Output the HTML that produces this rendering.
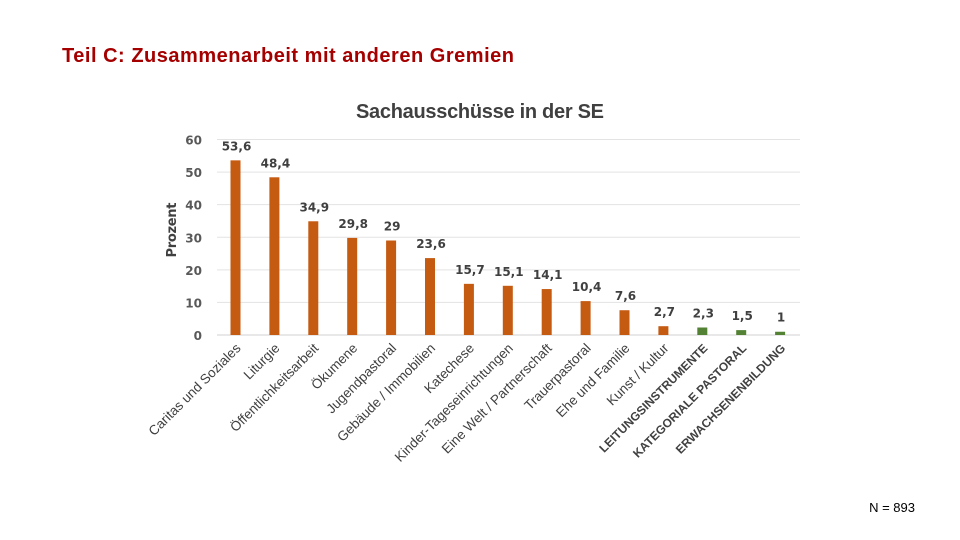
<!DOCTYPE html>
<html><head><meta charset="utf-8"><style>
html,body{margin:0;padding:0;background:#fff;width:960px;height:540px;overflow:hidden}
svg{display:block;font-family:"Liberation Sans",sans-serif}
</style></head><body>
<svg id="chart" width="960" height="540">
<text x="62" y="62" font-size="20" font-weight="bold" fill="#a50000" textLength="452">Teil C: Zusammenarbeit mit anderen Gremien</text>
<text x="480" y="118" text-anchor="middle" font-size="20" font-weight="bold" fill="#404040" textLength="248">Sachausschüsse in der SE</text>
<text transform="translate(176,230) rotate(-90)" text-anchor="middle" font-size="13" font-weight="bold" fill="#404040" style="font-family:'DejaVu Sans',sans-serif" textLength="55">Prozent</text>
<text x="915" y="512" text-anchor="end" font-size="13" fill="#000">N = 893</text>
<g id="grid"></g><g id="bars"></g>
</svg>
<script>
const categories=["Caritas und Soziales","Liturgie","Öffentlichkeitsarbeit","Ökumene","Jugendpastoral","Gebäude / Immobilien","Katechese","Kinder-Tageseinrichtungen","Eine Welt / Partnerschaft","Trauerpastoral","Ehe und Familie","Kunst / Kultur","LEITUNGSINSTRUMENTE","KATEGORIALE PASTORAL","ERWACHSENENBILDUNG"];
const values=[53.6,48.4,34.9,29.8,29,23.6,15.7,15.1,14.1,10.4,7.6,2.7,2.3,1.5,1];
const valueLabels=["53,6","48,4","34,9","29,8","29","23,6","15,7","15,1","14,1","10,4","7,6","2,7","2,3","1,5","1"];
const groups=["o","o","o","o","o","o","o","o","o","o","o","o","g","g","g"];
const yTicks=[0,10,20,30,40,50,60];
const NS="http://www.w3.org/2000/svg";
const y0=335,yMax=60,yTop=139.5,xL=217,xR=800,x0=235.5,step=38.9,bw=10;
const Y=v=>y0-(v/yMax)*(y0-yTop);
const X=i=>x0+i*step;
function mk(tag,attrs,parent){const e=document.createElementNS(NS,tag);for(const k in attrs)e.setAttribute(k,attrs[k]);parent.appendChild(e);return e;}
const grid=document.getElementById('grid'),bars=document.getElementById('bars');
yTicks.forEach(t=>{
 const l=mk('line',{x1:xL,x2:xR,y1:Y(t),y2:Y(t),stroke:t===0?'#d0d0d0':'#e3e3e3','stroke-width':1},grid);
 
 
 const tx=mk('text',{x:202,y:Y(t)+5,'text-anchor':'end','font-size':12,'font-weight':'bold',fill:'#595959',style:"font-family:'DejaVu Sans',sans-serif"},grid);
 tx.textContent=t;
 
 
});
values.forEach((v,i)=>{
 const cx=X(i);
 const r=mk('rect',{x:cx-bw/2,y:Y(v),width:bw,height:y0-Y(v),fill:groups[i]==='g'?'#548235':'#c55a11'},bars);
 
 
 const lb=mk('text',{x:cx+1,y:Y(v)-10,'text-anchor':'middle','font-size':12,'font-weight':'bold',fill:'#404040',style:"font-family:'DejaVu Sans',sans-serif"},bars);
 lb.textContent=valueLabels[i];
 
 
 const caps=categories[i]===categories[i].toUpperCase();
 const c=mk('text',{transform:`translate(${cx+6},${y0+14}) rotate(-45)`,'text-anchor':'end','font-size':caps?12:13.5,'font-weight':caps?'bold':'normal',fill:'#404040'},bars);
 c.textContent=categories[i];
 
 
});
</script>
</body></html>
